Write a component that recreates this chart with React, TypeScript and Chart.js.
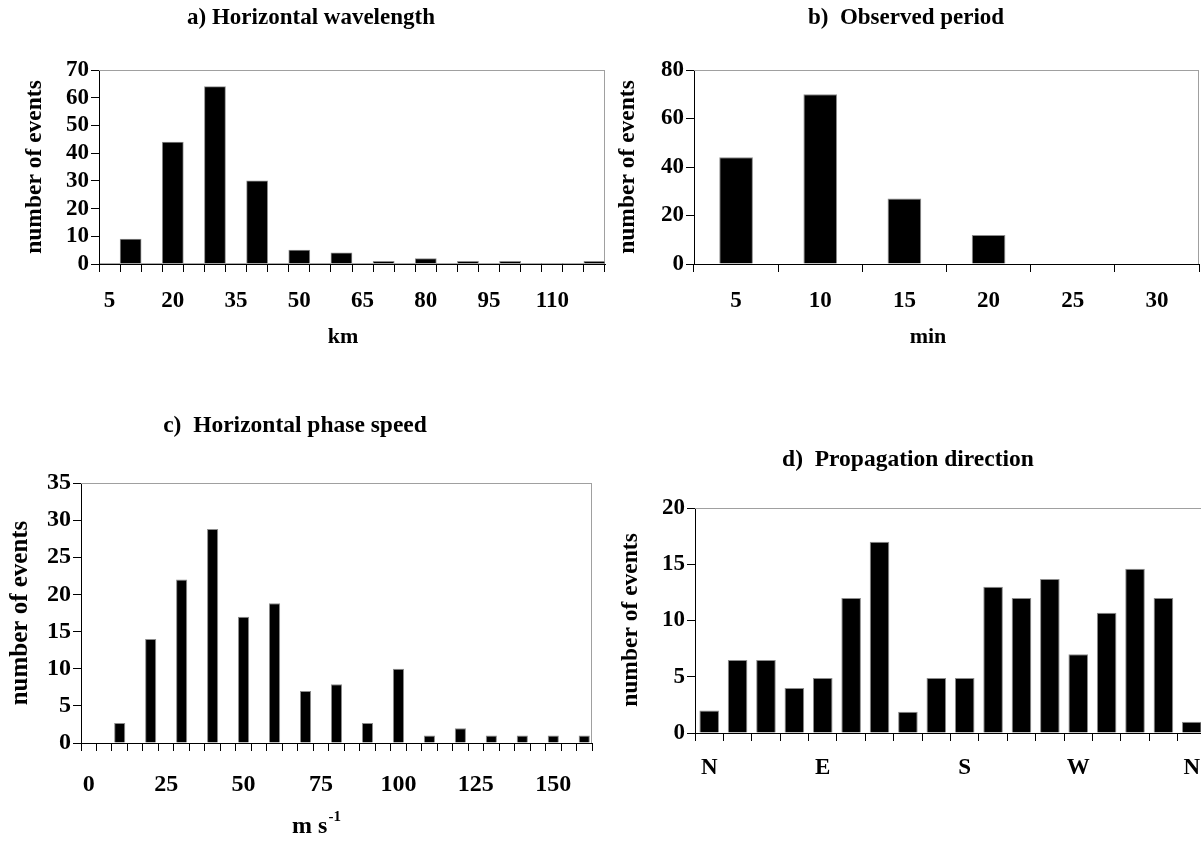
import React, { useEffect, useRef } from 'react';
import { Chart, registerables } from 'chart.js';

Chart.register(...registerables);

const FONT = '"Liberation Serif", "Times New Roman", serif';

// ---------- a) Horizontal wavelength ----------
const A_CATEGORIES = ['5', '10', '15', '20', '25', '30', '35', '40', '45', '50', '55', '60', '65', '70', '75', '80', '85', '90', '95', '100', '105', '110', '115', '120'];
const A_COUNTS = [0, 9, 0, 44, 0, 64, 0, 30, 0, 5, 0, 4, 0, 1, 0, 2, 0, 1, 0, 1, 0, 0, 0, 1];
const A_TICK_LABELS = ['5', '20', '35', '50', '65', '80', '95', '110'];

// ---------- b) Observed period ----------
const B_CATEGORIES = ['5', '10', '15', '20', '25', '30'];
const B_COUNTS = [44, 70, 27, 12, 0, 0];
const B_TICK_LABELS = ['5', '10', '15', '20', '25', '30'];

// ---------- c) Horizontal phase speed ----------
const C_CATEGORIES = ['0', '5', '10', '15', '20', '25', '30', '35', '40', '45', '50', '55', '60', '65', '70', '75', '80', '85', '90', '95', '100', '105', '110', '115', '120', '125', '130', '135', '140', '145', '150', '155', '160'];
const C_COUNTS = [0, 0, 2.7, 0, 14, 0, 22, 0, 28.8, 0, 17, 0, 18.8, 0, 7, 0, 7.9, 0, 2.7, 0, 10, 0, 1, 0, 2, 0, 1, 0, 1, 0, 1, 0, 1];
const C_TICK_LABELS = ['0', '25', '50', '75', '100', '125', '150'];

// ---------- d) Propagation direction ----------
const D_CATEGORIES = ['N', '', '', '', 'E', '', '', '', '', 'S', '', '', '', 'W', '', '', '', 'N'];
const D_COUNTS = [2, 6.5, 6.5, 4, 4.9, 12, 17, 1.9, 4.9, 4.9, 13, 12, 13.7, 7, 10.7, 14.6, 12, 1];
const D_TICK_LABELS = ['N', 'E', 'S', 'W', 'N'];

const TITLES = ['a) Horizontal wavelength', 'b)  Observed period', 'c)  Horizontal phase speed', 'd)  Propagation direction'];
const X_TITLES = ['km', 'min', 'm s', ''];
const Y_TITLE = 'number of events';

const framePlugin = {
  id: 'frameLines',
  beforeDatasetsDraw(chart: any) {
    const { ctx, chartArea } = chart;
    ctx.save();
    ctx.strokeStyle = '#a0a0a0';
    ctx.lineWidth = 1;
    ctx.beginPath();
    ctx.moveTo(chartArea.left, Math.round(chartArea.top) + 0.5);
    ctx.lineTo(chartArea.right, Math.round(chartArea.top) + 0.5);
    ctx.moveTo(Math.round(chartArea.right) - 0.5, chartArea.top);
    ctx.lineTo(Math.round(chartArea.right) - 0.5, chartArea.bottom);
    ctx.stroke();
    ctx.restore();
  },
};

const textPlugin = {
  id: 'panelText',
  afterDraw(chart: any, _args: any, o: any) {
    const ctx = chart.ctx;
    ctx.save();
    ctx.fillStyle = '#000';
    ctx.textBaseline = 'middle';
    ctx.textAlign = 'center';
    ctx.font = `bold ${o.titleSize}px ${FONT}`;
    ctx.fillText(o.title, o.titleX, o.titleY);
    if (o.xTitle) {
      ctx.font = `bold ${o.xSize}px ${FONT}`;
      if (o.xSup) {
        const w1 = ctx.measureText(o.xTitle).width;
        ctx.font = `bold ${o.supSize}px ${FONT}`;
        const w2 = ctx.measureText(o.xSup).width;
        const start = o.xTitleX - (w1 + w2) / 2;
        ctx.textAlign = 'left';
        ctx.font = `bold ${o.xSize}px ${FONT}`;
        ctx.fillText(o.xTitle, start, o.xTitleY);
        ctx.font = `bold ${o.supSize}px ${FONT}`;
        ctx.fillText(o.xSup, start + w1 + 1, o.xTitleY - 10);
      } else {
        ctx.fillText(o.xTitle, o.xTitleX, o.xTitleY);
      }
    }
    ctx.translate(o.yTitleX, o.yTitleY);
    ctx.rotate(-Math.PI / 2);
    ctx.textAlign = 'center';
    ctx.font = `bold ${o.ySize}px ${FONT}`;
    ctx.fillText(Y_TITLE, 0, 0);
    ctx.restore();
  },
};

type PanelSpec = {
  categories: string[];
  counts: number[];
  tickLabels: string[];
  yMax: number;
  yStep: number;
  barPct: number;
  yWidth: number;
  xHeight: number;
  tickSize: number;
  xPad: number;
  padding: { left: number; top: number; right: number; bottom: number };
  text: any;
};

function buildConfig(p: PanelSpec): any {
  const font = { family: FONT, size: p.tickSize, weight: 'bold' as const };
  return {
    type: 'bar',
    data: {
      labels: p.categories,
      datasets: [
        {
          data: p.counts,
          backgroundColor: '#000',
          borderColor: '#8c8c8c',
          borderWidth: (c: any) => (c.raw > 0 ? 1 : 0),
          barPercentage: p.barPct,
          categoryPercentage: 1,
        },
      ],
    },
    options: {
      responsive: false,
      animation: false,
      devicePixelRatio: 1,
      layout: { padding: p.padding },
      plugins: {
        legend: { display: false },
        tooltip: { enabled: false },
        title: { display: false },
        panelText: p.text,
      },
      scales: {
        x: {
          type: 'category',
          offset: true,
          grid: { offset: true, drawOnChartArea: false, drawTicks: true, tickLength: 8, color: '#000', lineWidth: 1 },
          border: { display: true, color: '#000', width: 1 },
          ticks: {
            autoSkip: false,
            maxRotation: 0,
            minRotation: 0,
            padding: p.xPad,
            color: '#000',
            font,
            callback: (_v: any, i: number) => {
              const lab = p.categories[i];
              return lab !== '' && p.tickLabels.includes(lab) ? lab : '';
            },
          },
          afterFit: (s: any) => {
            s.height = p.xHeight;
          },
        },
        y: {
          min: 0,
          max: p.yMax,
          ticks: { stepSize: p.yStep, autoSkip: false, padding: 2, color: '#000', font },
          grid: { drawOnChartArea: false, drawTicks: true, tickLength: 8, color: '#000' },
          border: { display: true, color: '#000', width: 1 },
          afterFit: (s: any) => {
            s.width = p.yWidth;
          },
        },
      },
    },
    plugins: [framePlugin, textPlugin],
  };
}

const PANELS: { left: number; top: number; width: number; height: number; spec: PanelSpec }[] = [
  {
    left: 0,
    top: 0,
    width: 620,
    height: 370,
    spec: {
      categories: A_CATEGORIES,
      counts: A_COUNTS,
      tickLabels: A_TICK_LABELS,
      yMax: 70,
      yStep: 10,
      barPct: 1,
      yWidth: 99,
      xHeight: 50,
      tickSize: 23,
      xPad: 15,
      padding: { left: 0, top: 70, right: 15, bottom: 56 },
      text: { title: TITLES[0], titleX: 311, titleY: 18, titleSize: 23, xTitle: X_TITLES[0], xTitleX: 343, xTitleY: 337, xSize: 22, yTitleX: 35, yTitleY: 167, ySize: 23.5 },
    },
  },
  {
    left: 600,
    top: 0,
    width: 601,
    height: 370,
    spec: {
      categories: B_CATEGORIES,
      counts: B_COUNTS,
      tickLabels: B_TICK_LABELS,
      yMax: 80,
      yStep: 20,
      barPct: 0.4,
      yWidth: 94,
      xHeight: 50,
      tickSize: 23,
      xPad: 15,
      padding: { left: 0, top: 70, right: 2, bottom: 56 },
      text: { title: TITLES[1], titleX: 306, titleY: 18, titleSize: 23, xTitle: X_TITLES[1], xTitleX: 328, xTitleY: 337, xSize: 22, yTitleX: 28, yTitleY: 167, ySize: 23.5 },
    },
  },
  {
    left: 0,
    top: 380,
    width: 610,
    height: 464,
    spec: {
      categories: C_CATEGORIES,
      counts: C_COUNTS,
      tickLabels: C_TICK_LABELS,
      yMax: 35,
      yStep: 5,
      barPct: 0.72,
      yWidth: 81,
      xHeight: 50,
      tickSize: 24,
      xPad: 19,
      padding: { left: 0, top: 103, right: 18, bottom: 51 },
      text: { title: TITLES[2], titleX: 295, titleY: 46, titleSize: 23.5, xTitle: X_TITLES[2], xSup: '-1', supSize: 15, xTitleX: 316, xTitleY: 447, xSize: 24, yTitleX: 21, yTitleY: 233, ySize: 25 },
    },
  },
  {
    left: 600,
    top: 380,
    width: 620,
    height: 464,
    spec: {
      categories: D_CATEGORIES,
      counts: D_COUNTS,
      tickLabels: D_TICK_LABELS,
      yMax: 20,
      yStep: 5,
      barPct: 0.69,
      yWidth: 95,
      xHeight: 50,
      tickSize: 23,
      xPad: 13,
      padding: { left: 0, top: 128, right: 14, bottom: 61 },
      text: { title: TITLES[3], titleX: 308, titleY: 80, titleSize: 23.5, xTitle: X_TITLES[3], xTitleX: 0, xTitleY: 0, xSize: 22, yTitleX: 31, yTitleY: 240, ySize: 23.5 },
    },
  },
];

function Panel(props: { left: number; top: number; width: number; height: number; spec: PanelSpec }) {
  const ref = useRef<HTMLCanvasElement>(null);
  useEffect(() => {
    if (!ref.current) return;
    const chart = new Chart(ref.current, buildConfig(props.spec));
    return () => chart.destroy();
  }, []);
  return (
    <canvas
      ref={ref}
      width={props.width}
      height={props.height}
      style={{ position: 'absolute', left: props.left, top: props.top, width: props.width, height: props.height }}
    />
  );
}

export default function App() {
  return (
    <div style={{ position: 'absolute', left: 0, top: 0, width: 1201, height: 844, overflow: 'hidden', background: '#fff' }}>
      {PANELS.map((p, i) => (
        <Panel key={i} {...p} />
      ))}
    </div>
  );
}
